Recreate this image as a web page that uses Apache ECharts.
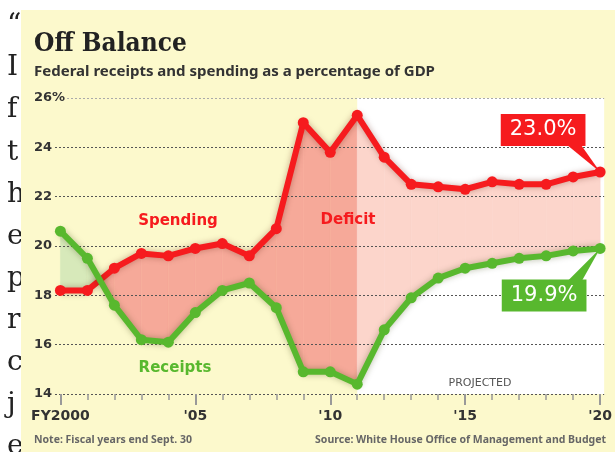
<!DOCTYPE html>
<html>
<head>
<meta charset="utf-8" />
<title>Off Balance</title>
<script src="https://cdn.jsdelivr.net/npm/echarts@6/dist/echarts.min.js"></script>
<style>
html, body { margin: 0; padding: 0; background: #fff; }
#main { width: 615px; height: 452px; }
</style>
</head>
<body>
<div id="main"></div>
<script type="text/javascript">
// data (share of GDP, %)
var years = [2000, 2001, 2002, 2003, 2004, 2005, 2006, 2007, 2008, 2009, 2010,
             2011, 2012, 2013, 2014, 2015, 2016, 2017, 2018, 2019, 2020];
var spending = [18.2, 18.2, 19.1, 19.7, 19.6, 19.9, 20.1, 19.6, 20.7, 25.0, 23.8,
                25.3, 23.6, 22.5, 22.4, 22.3, 22.6, 22.5, 22.5, 22.8, 23.0];
var receipts = [20.6, 19.5, 17.6, 16.2, 16.1, 17.3, 18.2, 18.5, 17.5, 14.9, 14.9,
                14.4, 16.6, 17.9, 18.7, 19.1, 19.3, 19.5, 19.6, 19.8, 19.9];
var majorYears = [2000, 2005, 2010, 2015, 2020];
var yearLabels = ['FY2000', "'05", "'10", "'15", "'20"];
var projectedFrom = 2011;
// letters of the page text peeking out at the left edge
var sideLetters = ['\u201C', 'I', 'f', 't', 'h', 'e', 'p', 'r', 'c', 'j', 'e'];

var RED = '#F61B1E', GREEN = '#58B82E', BG = '#FCF9CC';
var last = years.length - 1;
var redOffset = [-57, -42], greenOffset = [-56, 47];

var myChart = echarts.init(document.getElementById('main'));

function fillItem(params, api) {
	var i = api.value(0);
	var x0 = years[i], x1 = years[i + 1];
	var d0 = spending[i] - receipts[i], d1 = spending[i + 1] - receipts[i + 1];
	var red = x0 >= projectedFrom ? '#FCD5CB' : '#F6A999';
	var green = '#D7E9BA';
	var pts = function (arr) { return arr.map(function (p) { return api.coord(p); }); };
	var poly = function (arr, c) {
		return { type: 'polygon', shape: { points: pts(arr) }, style: { fill: c, stroke: c, lineWidth: 0.6 } };
	};
	var kids = [];
	if (d0 * d1 >= 0) {
		kids.push(poly([[x0, spending[i]], [x1, spending[i + 1]], [x1, receipts[i + 1]], [x0, receipts[i]]],
			(d0 + d1) >= 0 ? red : green));
	} else {
		// lines cross inside this year: split at the crossing
		var t = d0 / (d0 - d1);
		var xc = x0 + t * (x1 - x0);
		var yc = spending[i] + t * (spending[i + 1] - spending[i]);
		kids.push(poly([[x0, spending[i]], [xc, yc], [x0, receipts[i]]], d0 > 0 ? red : green));
		kids.push(poly([[xc, yc], [x1, spending[i + 1]], [x1, receipts[i + 1]]], d1 > 0 ? red : green));
	}
	return { type: 'group', children: kids };
}

function projItem(params, api) {
	var p0 = api.coord([projectedFrom, 26]);
	var cs = params.coordSys;
	return {
		type: 'rect',
		shape: { x: p0[0], y: cs.y, width: cs.x + cs.width - p0[0], height: cs.height },
		style: { fill: '#fff' }
	};
}

function lineData(vals, label) {
	return vals.map(function (v, i) {
		if (i !== last) return [years[i], v];
		return { value: [years[i], v], label: label };
	});
}

function boxLabel(vals, color, offset) {
	return {
		show: true, position: 'inside', offset: offset,
		formatter: function () { return vals[last].toFixed(1) + '%'; },
		color: '#fff', backgroundColor: color, fontSize: 21, fontFamily: 'DejaVu Sans',
		padding: [6, 9, 5, 9]
	};
}

var graphics = [];
sideLetters.forEach(function (ch, i) {
	graphics.push({
		type: 'text', left: 7, top: 12 + i * 42.1, z: 0,
		style: { text: ch, fill: '#222', font: '28px "DejaVu Serif"' }
	});
});
graphics.push({ type: 'rect', left: 21, top: 10, z: 0.5, shape: { width: 594, height: 442 }, style: { fill: BG } });
graphics.push(
	{ type: 'text', left: 34, top: 31, z: 5, style: { text: 'Off Balance', fill: '#222', font: 'bold 26px "DejaVu Serif Condensed", "DejaVu Serif"' } },
	{ type: 'text', left: 34, top: 64, z: 5, style: { text: 'Federal receipts and spending as a percentage of GDP', fill: '#333', font: 'bold 15px "Noto Sans"' } },
	{ type: 'text', x: 178, y: 221, z: 5, style: { text: 'Spending', fill: RED, font: 'bold 15px "DejaVu Sans"', align: 'center', verticalAlign: 'middle' } },
	{ type: 'text', x: 348, y: 220, z: 5, style: { text: 'Deficit', fill: RED, font: 'bold 15px "DejaVu Sans"', align: 'center', verticalAlign: 'middle' } },
	{ type: 'text', x: 175, y: 368, z: 5, style: { text: 'Receipts', fill: GREEN, font: 'bold 15px "DejaVu Sans"', align: 'center', verticalAlign: 'middle' } },
	{ type: 'text', x: 480, y: 383, z: 5, style: { text: 'PROJECTED', fill: '#555', font: '11px "DejaVu Sans"', align: 'center', verticalAlign: 'middle' } },
	{ type: 'text', x: 34, y: 440, z: 5, style: { text: 'Note: Fiscal years end Sept. 30', fill: '#666', font: 'bold 10.5px "Noto Sans"', verticalAlign: 'middle' } },
	{ type: 'text', x: 606, y: 440, z: 5, style: { text: 'Source: White House Office of Management and Budget', fill: '#666', font: 'bold 10.5px "Noto Sans"', align: 'right', verticalAlign: 'middle' } }
);

var axisBase = {
	type: 'value', min: 1999.8, max: 2020.15, position: 'bottom', z: 2,
	axisLine: { show: false }, splitLine: { show: false }
};

var option = {
	animation: false,
	backgroundColor: 'transparent',
	graphic: graphics,
	grid: { left: 55, right: 10, top: 98, bottom: 58 },
	xAxis: [
		Object.assign({}, axisBase, {
			axisTick: { show: true, customValues: years, length: 6, lineStyle: { color: '#999', width: 1.5 } },
			axisLabel: { show: false }
		}),
		Object.assign({}, axisBase, {
			axisTick: { show: true, customValues: majorYears, length: 11, lineStyle: { color: '#999', width: 2 } },
			axisLabel: {
				customValues: majorYears, margin: 15,
				formatter: function (v) { return yearLabels[majorYears.indexOf(Math.round(v))]; },
				color: '#333', fontWeight: 'bold', fontSize: 14, fontFamily: 'DejaVu Sans'
			}
		})
	],
	yAxis: {
		type: 'value', min: 14, max: 26, interval: 2, z: 1.5,
		axisLine: { show: false }, axisTick: { show: false },
		axisLabel: {
			align: 'left', margin: 21, color: '#333', fontWeight: 'bold', fontSize: 13, fontFamily: 'DejaVu Sans',
			backgroundColor: BG, padding: [0, 2, 0, 0],
			formatter: function (v) { return v === 26 ? '26%' : String(v); }
		},
		splitLine: { lineStyle: { type: [2, 2], width: 1, color: ['#555', '#555', '#555', '#555', '#555', '#555', '#aaa'] } }
	},
	series: [
		{
			type: 'custom', z: 0.8, renderItem: projItem, data: [[projectedFrom]], silent: true, clip: true
		},
		{
			type: 'custom', z: 1, renderItem: fillItem, silent: true, clip: true,
			data: years.slice(0, -1).map(function (y, i) { return [i]; })
		},
		{
			type: 'line', z: 3, data: lineData(spending, boxLabel(spending, RED, redOffset)),
			symbol: 'circle', symbolSize: 11, showAllSymbol: true,
			itemStyle: { color: RED },
			lineStyle: { color: RED, width: 6, shadowColor: 'rgba(90,20,0,0.35)', shadowBlur: 6 }
		},
		{
			type: 'line', z: 3, data: lineData(receipts, boxLabel(receipts, GREEN, greenOffset)),
			symbol: 'circle', symbolSize: 11, showAllSymbol: true,
			itemStyle: { color: GREEN },
			lineStyle: { color: GREEN, width: 6, shadowColor: 'rgba(50,60,0,0.35)', shadowBlur: 6 }
		}
	]
};

myChart.setOption(option);

// callout pointers from the value boxes to the last points
function pointer(vals, color, offset, dir) {
	var p = myChart.convertToPixel({ gridIndex: 0 }, [years[last], vals[last]]);
	var edge = p[1] + offset[1] - dir * 15;
	return {
		type: 'polygon', z: 4,
		shape: { points: [[p[0] + offset[0] + 24, edge], [p[0] + offset[0] + 38, edge], p] },
		style: { fill: color }
	};
}
myChart.setOption({
	graphic: graphics.concat([
		pointer(spending, RED, redOffset, -1),
		pointer(receipts, GREEN, greenOffset, 1)
	])
});
</script>
</body>
</html>
